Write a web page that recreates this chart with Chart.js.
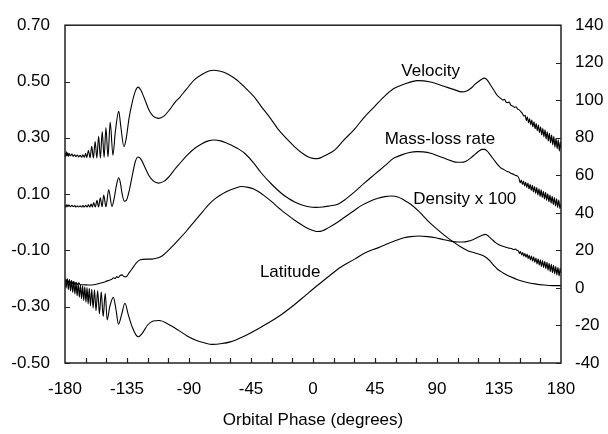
<!DOCTYPE html>
<html>
<head>
<meta charset="utf-8">
<script src="https://cdn.jsdelivr.net/npm/chart.js@4"></script>
<style>
  html, body { margin: 0; padding: 0; background: #fff; }
  #wrap { width: 608px; height: 434px; position: relative; }
</style>
</head>
<body>
<div id="wrap"><canvas id="phaseChart"></canvas></div>
<script>
// Wind quantities against orbital phase

const velPhase = [-180, -179.5, -179, -178.5, -178, -177.5, -177, -176, -175, -174, -173, -172, -171, -170, -169, -168, -167, -166, -165, -164.2,
    -163, -161.8, -160.6, -159.4, -158.1, -156.9, -155.6, -154.3, -153, -151.6, -150.3, -148.8, -147.2, -145.2, -143.5, -141, -139.5, -137.2, -135.5, -133.5,
    -131, -129, -127, -125, -122, -119, -116, -112, -108, -104, -100, -97, -92, -85.4, -80, -75, -72, -68, -62, -56,
    -49.6, -43, -37.5, -31, -25.4, -19, -13.3, -8, -3.7, 0, 3, 6, 10, 15.7, 22, 30.2, 37, 44.7, 52, 58.7,
    66, 75.7, 85.4, 95, 102, 108.3, 111, 114.4, 117.5, 120.4, 123, 124.5, 126.5, 128.5, 131.3, 133.5, 136.2, 138, 139, 140,
    141.5, 142.5, 143.4, 145, 146.5, 147.5, 148.5, 149.5, 151, 152, 153.1,
    154, 154.8, 155.6, 156.4, 157.2, 158, 158.8, 159.6, 160.4, 161.2, 162, 162.8, 163.6, 164.4, 165.2, 166, 166.8, 167.6, 168.4, 169.2,
    170, 170.8, 171.6, 172.4, 173.2, 174, 174.8, 175.6, 176.4, 177.2, 178, 178.8, 179.5, 180];
const velocity = [0.245, 0.232, 0.250, 0.236, 0.247, 0.234, 0.244, 0.236, 0.242, 0.234, 0.240, 0.233, 0.239, 0.232, 0.238, 0.231, 0.240, 0.231, 0.244, 0.230,
    0.255, 0.229, 0.270, 0.228, 0.287, 0.228, 0.305, 0.228, 0.322, 0.230, 0.336, 0.232, 0.355, 0.238, 0.320, 0.394, 0.340, 0.268, 0.300, 0.370,
    0.430, 0.465, 0.480, 0.470, 0.435, 0.398, 0.377, 0.369, 0.378, 0.400, 0.427, 0.442, 0.472, 0.509, 0.527, 0.538, 0.540, 0.537, 0.527, 0.508,
    0.480, 0.447, 0.411, 0.370, 0.331, 0.296, 0.268, 0.246, 0.233, 0.227, 0.226, 0.230, 0.240, 0.256, 0.290, 0.331, 0.372, 0.411, 0.448, 0.475,
    0.490, 0.503, 0.498, 0.483, 0.472, 0.463, 0.465, 0.475, 0.490, 0.501, 0.510, 0.512, 0.505, 0.490, 0.469, 0.452, 0.440, 0.434, 0.437, 0.428,
    0.425, 0.427, 0.417, 0.413, 0.408, 0.410, 0.402, 0.400, 0.392, 0.386, 0.377,
    0.380, 0.361, 0.375, 0.353, 0.368, 0.346, 0.363, 0.339, 0.357, 0.332, 0.351, 0.325, 0.345, 0.318, 0.339, 0.310, 0.333, 0.304, 0.328, 0.296,
    0.321, 0.289, 0.316, 0.282, 0.310, 0.275, 0.304, 0.267, 0.298, 0.261, 0.293, 0.253, 0.286, 0.262];

const massPhase = [-180, -179.3, -178.6, -177.9, -177.2, -176, -175, -174, -173, -172, -171, -170, -169, -168, -167, -166, -165, -164, -163, -162,
    -161, -160.1, -159.2, -158, -156.8, -155.6, -154.4, -153.1, -151.9, -150.3, -148.3, -145.9, -144.5, -142.5, -141, -139.8, -138.5, -137, -135.5, -133.5,
    -131, -129, -127, -125, -122, -119, -116, -112, -108, -104, -100, -97.5, -92, -86, -80.6, -76, -72, -67, -61.7, -58.8,
    -55, -49.6, -43, -37.5, -30, -23, -18, -13.3, -8, -3, 2, 7, 12, 18.1, 24, 30.2, 37, 44.7, 52, 58.7,
    61.6, 66, 70, 75.7, 80, 85.4, 90, 95, 100, 104.7, 108, 111, 114.4, 118, 120.5, 122.8, 124.5, 126.5, 128.5, 131.3,
    134, 136, 138.6, 141, 142.5, 143.5, 145.8, 147, 148.5,
    149.6, 150.4, 151.2, 152, 152.8, 153.6, 154.4, 155.2, 156, 156.8, 157.6, 158.4, 159.2, 160, 160.8, 161.6, 162.4, 163.2, 164, 164.8,
    165.6, 166.4, 167.2, 168, 168.8, 169.6, 170.4, 171.2, 172, 172.8, 173.6, 174.4, 175.2, 176, 176.8, 177.6, 178.4, 179.2, 180];
const massLoss = [0.060, 0.054, 0.063, 0.055, 0.061, 0.055, 0.060, 0.055, 0.059, 0.054, 0.058, 0.054, 0.058, 0.054, 0.059, 0.054, 0.060, 0.054, 0.062, 0.054,
    0.065, 0.054, 0.070, 0.054, 0.078, 0.054, 0.087, 0.055, 0.097, 0.055, 0.115, 0.056, 0.080, 0.135, 0.158, 0.140, 0.100, 0.075, 0.078, 0.110,
    0.170, 0.215, 0.232, 0.225, 0.195, 0.165, 0.147, 0.139, 0.146, 0.165, 0.190, 0.204, 0.235, 0.262, 0.279, 0.289, 0.292, 0.289, 0.279, 0.273,
    0.263, 0.245, 0.210, 0.175, 0.135, 0.103, 0.085, 0.072, 0.061, 0.055, 0.053, 0.054, 0.058, 0.064, 0.083, 0.108, 0.138, 0.170, 0.200, 0.228,
    0.234, 0.242, 0.248, 0.251, 0.250, 0.245, 0.237, 0.228, 0.219, 0.213, 0.213, 0.217, 0.228, 0.243, 0.253, 0.259, 0.259, 0.253, 0.240, 0.222,
    0.205, 0.194, 0.187, 0.180, 0.178, 0.174, 0.170, 0.166, 0.164,
    0.154, 0.140, 0.150, 0.134, 0.146, 0.129, 0.142, 0.124, 0.139, 0.118, 0.135, 0.113, 0.131, 0.108, 0.127, 0.102, 0.123, 0.097, 0.119, 0.092,
    0.115, 0.088, 0.110, 0.083, 0.106, 0.078, 0.101, 0.073, 0.097, 0.068, 0.092, 0.063, 0.088, 0.058, 0.083, 0.053, 0.079, 0.049, 0.066];

const densPhase = [-180, -179.2, -178.4, -177.6, -176.8, -176, -175.2, -174.4, -173.6, -172.8, -172, -171, -170, -169, -167, -163, -158, -154, -150.7, -148,
    -145.9, -144.6, -143.6, -142.4, -141.4, -140, -138.6, -137.2, -135.7, -133.5, -131.4, -128.5, -125.4, -121, -116.9, -113, -109.6, -105, -101, -97.5,
    -92, -85.4, -80, -75.7, -71, -66, -61, -56, -52, -47, -43, -40, -35, -30, -25.4, -19, -13.3, -8, -3.7, 0,
    3.6, 7, 11, 18.1, 25, 30, 35, 41, 47.1, 52, 56.8, 61.6, 66, 70.9, 77, 83, 89, 95, 101, 107.1,
    112, 118, 124, 128, 131, 133.7, 138, 143.4, 149, 155.5, 161, 167.6, 174, 180];
const density = [-0.200, -0.214, -0.203, -0.216, -0.206, -0.218, -0.208, -0.219, -0.211, -0.221, -0.213, -0.222, -0.215, -0.222, -0.222, -0.223, -0.221, -0.216, -0.211, -0.206,
    -0.202, -0.197, -0.200, -0.193, -0.197, -0.189, -0.187, -0.193, -0.194, -0.180, -0.166, -0.146, -0.133, -0.131, -0.131, -0.127, -0.120, -0.100, -0.080, -0.062,
    -0.032, 0.007, 0.038, 0.063, 0.084, 0.100, 0.113, 0.122, 0.127, 0.124, 0.118, 0.110, 0.093, 0.073, 0.053, 0.028, 0.007, -0.010, -0.022, -0.029,
    -0.033, -0.030, -0.020, 0.001, 0.025, 0.042, 0.059, 0.074, 0.085, 0.091, 0.093, 0.090, 0.079, 0.064, 0.038, 0.007, -0.020, -0.045, -0.067, -0.087,
    -0.100, -0.110, -0.120, -0.135, -0.152, -0.166, -0.180, -0.194, -0.205, -0.214, -0.219, -0.223, -0.225, -0.225];

const latPhase = [-180, -179.2, -178.4, -177.6, -176.8, -176, -175.2, -174.4, -173.6, -172.8, -172, -171.2, -170.4, -169.6, -168.8, -168, -167.2, -166.4, -165.6, -164.8,
    -164, -163.2, -162.4, -161.5, -160.6, -159.6, -158.6, -157.5, -156.3, -155, -153.7, -152.3, -150.8, -149.4, -147.5, -144.9, -143, -141.2, -139, -136.5,
    -134, -131, -128.5, -126.7, -124, -120, -116, -111.5, -105, -97.5, -91.7, -85.4, -79, -73, -66, -60, -50, -37.5, -25, -13.3,
    -5, 3.6, 12, 20, 30.2, 38, 47.1, 55, 61.6, 66, 70.9, 77, 83, 89, 95, 100, 104.7, 109, 112, 116,
    119.2, 122, 125.3, 127.5, 130.1, 133, 136.2, 140, 142, 144, 145.8, 147, 148,
    149, 149.8, 150.6, 151.4, 152.2, 153, 153.8, 154.6, 155.4, 156.2, 157, 157.8, 158.6, 159.4, 160.2, 161, 161.8, 162.6, 163.4, 164.2,
    165, 165.8, 166.6, 167.4, 168.2, 169, 169.8, 170.6, 171.4, 172.2, 173, 173.8, 174.6, 175.4, 176.2, 177, 177.8, 178.6, 179.4, 180];
const latitude = [-0.205, -0.233, -0.200, -0.239, -0.203, -0.244, -0.207, -0.249, -0.211, -0.255, -0.214, -0.261, -0.218, -0.266, -0.222, -0.272, -0.226, -0.278, -0.229, -0.284,
    -0.232, -0.290, -0.235, -0.297, -0.238, -0.305, -0.240, -0.314, -0.243, -0.325, -0.247, -0.335, -0.252, -0.347, -0.300, -0.267, -0.310, -0.362, -0.330, -0.288,
    -0.330, -0.375, -0.400, -0.407, -0.395, -0.365, -0.351, -0.349, -0.362, -0.384, -0.403, -0.418, -0.428, -0.434, -0.431, -0.425, -0.405, -0.372, -0.335, -0.292,
    -0.258, -0.223, -0.190, -0.160, -0.131, -0.108, -0.091, -0.075, -0.062, -0.055, -0.051, -0.049, -0.051, -0.055, -0.062, -0.067, -0.070, -0.070, -0.068, -0.062,
    -0.054, -0.048, -0.043, -0.050, -0.062, -0.074, -0.083, -0.089, -0.092, -0.093, -0.097, -0.095, -0.100,
    -0.101, -0.111, -0.104, -0.116, -0.108, -0.121, -0.111, -0.124, -0.113, -0.129, -0.117, -0.134, -0.120, -0.138, -0.123, -0.143, -0.127, -0.148, -0.130, -0.152,
    -0.133, -0.157, -0.136, -0.161, -0.139, -0.165, -0.142, -0.170, -0.146, -0.175, -0.149, -0.179, -0.153, -0.183, -0.157, -0.187, -0.161, -0.191, -0.164, -0.180];

// in-plot labels and where they sit (phase, left-axis level)
const seriesNames = ['Velocity', 'Mass-loss rate', 'Density x 100', 'Latitude'];
const labelPhase = [85.4, 92.1, 110.2, -16.6];
const labelLevel = [0.536, 0.293, 0.083, -0.178];

const FONT = '"Liberation Sans", Arial, Helvetica, sans-serif';

function pts(xs, ys) {
    return xs.map((x, i) => ({ x: x, y: ys[i] }));
}

function curve(label, xs, ys) {
    return {
        label: label,
        data: pts(xs, ys),
        borderColor: '#000',
        borderWidth: 1.1,
        pointRadius: 0,
        fill: false,
        cubicInterpolationMode: 'monotone',
        yAxisID: 'y'
    };
}

const frameAndLabels = {
    id: 'frameAndLabels',
    afterDraw(chart) {
        const { ctx, chartArea: a, scales } = chart;
        ctx.save();
        ctx.strokeStyle = '#222';
        ctx.lineWidth = 1.5;
        ctx.strokeRect(a.left, a.top, a.right - a.left, a.bottom - a.top);

        // tick marks point into the plot
        ctx.lineWidth = 1.2;
        ctx.beginPath();
        for (let p = -165; p < 180; p += 15) {
            const x = Math.round(scales.x.getPixelForValue(p)) + 0.5;
            ctx.moveTo(x, a.bottom);
            ctx.lineTo(x, a.bottom - 5);
        }
        scales.y.ticks.forEach(t => {
            const y = Math.round(scales.y.getPixelForValue(t.value)) + 0.5;
            ctx.moveTo(a.left, y);
            ctx.lineTo(a.left + 5, y);
        });
        scales.y2.ticks.forEach(t => {
            const y = Math.round(scales.y2.getPixelForValue(t.value)) + 0.5;
            ctx.moveTo(a.right, y);
            ctx.lineTo(a.right - 5, y);
        });
        ctx.stroke();

        ctx.font = '17px ' + FONT;
        ctx.fillStyle = '#000';
        ctx.textAlign = 'center';
        ctx.textBaseline = 'middle';
        seriesNames.forEach((name, i) => {
            ctx.fillText(name, scales.x.getPixelForValue(labelPhase[i]), scales.y.getPixelForValue(labelLevel[i]));
        });
        ctx.restore();
    }
};

const tickFont = { family: FONT, size: 17 };
const noGrid = { display: false, drawTicks: false };

new Chart(document.getElementById('phaseChart'), {
    type: 'line',
    data: {
        datasets: [
            curve('Velocity', velPhase, velocity),
            curve('Mass-loss rate', massPhase, massLoss),
            curve('Density x 100', densPhase, density),
            curve('Latitude', latPhase, latitude)
        ]
    },
    options: {
        responsive: true,
        maintainAspectRatio: false,
        animation: false,
        layout: { padding: { top: 15, left: 0, right: 0, bottom: 0 } },
        plugins: {
            legend: { display: false },
            tooltip: { enabled: false }
        },
        scales: {
            x: {
                type: 'linear',
                min: -180,
                max: 180,
                grid: noGrid,
                border: { display: false },
                ticks: { stepSize: 45, color: '#000', font: tickFont, padding: 16, maxRotation: 0 },
                title: {
                    display: true,
                    text: 'Orbital Phase (degrees)',
                    color: '#000',
                    font: tickFont,
                    padding: { top: 0, bottom: 3 }
                },
                afterFit(scale) { scale.height = 71; }
            },
            y: {
                position: 'left',
                min: -0.5,
                max: 0.7,
                grid: noGrid,
                border: { display: false },
                ticks: {
                    stepSize: 0.2,
                    color: '#000',
                    font: tickFont,
                    padding: 15,
                    callback: v => Number(v).toFixed(2)
                },
                afterFit(scale) { scale.width = 65; }
            },
            y2: {
                position: 'right',
                min: -40,
                max: 140,
                grid: noGrid,
                border: { display: false },
                ticks: { stepSize: 20, color: '#000', font: tickFont, padding: 14 },
                afterFit(scale) { scale.width = 47; }
            }
        }
    },
    plugins: [frameAndLabels]
});
</script>
</body>
</html>
